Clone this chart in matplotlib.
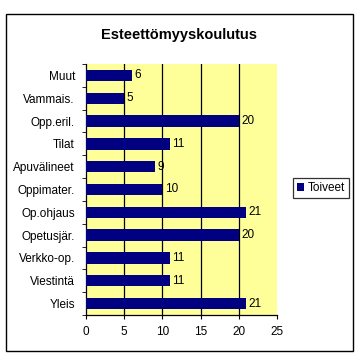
import matplotlib
matplotlib.use("Agg")
import matplotlib.pyplot as plt
from matplotlib.patches import Rectangle
import numpy as np

categories = ["Yleis", "Viestintä", "Verkko-op.", "Opetusjär.", "Op.ohjaus",
              "Oppimater.", "Apuvälineet", "Tilat", "Opp.eril.", "Vammais.", "Muut"]
values = [21, 11, 11, 20, 21, 10, 9, 11, 20, 5, 6]
xticks = [0, 5, 10, 15, 20, 25]
series_name = "Toiveet"
title = "Esteettömyyskoulutus"

plt.rcParams['font.family'] = ['Liberation Sans', 'DejaVu Sans']
fs = 8.5

fig = plt.figure(figsize=(3.57, 3.54), dpi=100)
fig.patch.set_facecolor("white")
fig.patches.append(Rectangle((6/357, 1-351/354), 347/357, 337/354, transform=fig.transFigure,
                             fill=False, edgecolor="black", linewidth=1.0))

ax = fig.add_axes([86/357, 1-315/354, 191/357, 251/354])
ax.set_facecolor("#FFFF99")
y = np.arange(len(categories))
bars = ax.barh(y, values, height=0.5, color="#000080", label=series_name, zorder=3)
for yi, v in zip(y, values):
    ax.text(v + 0.3, yi, str(v), va="center", ha="left", fontsize=fs, zorder=4)

ax.set_xlim(0, 25)
ax.set_ylim(-0.5, len(categories) - 0.5)
ax.set_xticks(xticks)
ax.set_xticklabels([str(t) for t in xticks], fontsize=fs)
ax.set_yticks(y)
ax.set_yticklabels(categories, fontsize=fs)
ax.tick_params(axis="y", length=0, pad=8)
ax.set_yticks(np.arange(-0.5, len(categories)), minor=True)
ax.tick_params(axis="y", which="minor", length=3, direction="out")
ax.tick_params(axis="x", length=3, direction="out", pad=5)
for xv in xticks[1:-1]:
    ax.axvline(xv, color="black", linewidth=0.9, zorder=2)
ax.spines["top"].set_visible(False)
ax.spines["right"].set_visible(False)
ax.spines["left"].set_linewidth(0.9)
ax.spines["bottom"].set_linewidth(0.9)

fig.text(179/357, 1-35/354, title, ha="center", va="center", fontsize=10.5, fontweight="bold")

leg = fig.legend(handles=[bars], labels=[series_name], loc="center",
                 bbox_to_anchor=(321/357, 1-188/354), fontsize=fs, frameon=True,
                 fancybox=False, edgecolor="black", handlelength=0.6, handleheight=0.6,
                 handletextpad=0.3, borderpad=0.35, borderaxespad=0)
leg.get_frame().set_linewidth(0.9)

fig.savefig("out.png", dpi=100, facecolor="white")
